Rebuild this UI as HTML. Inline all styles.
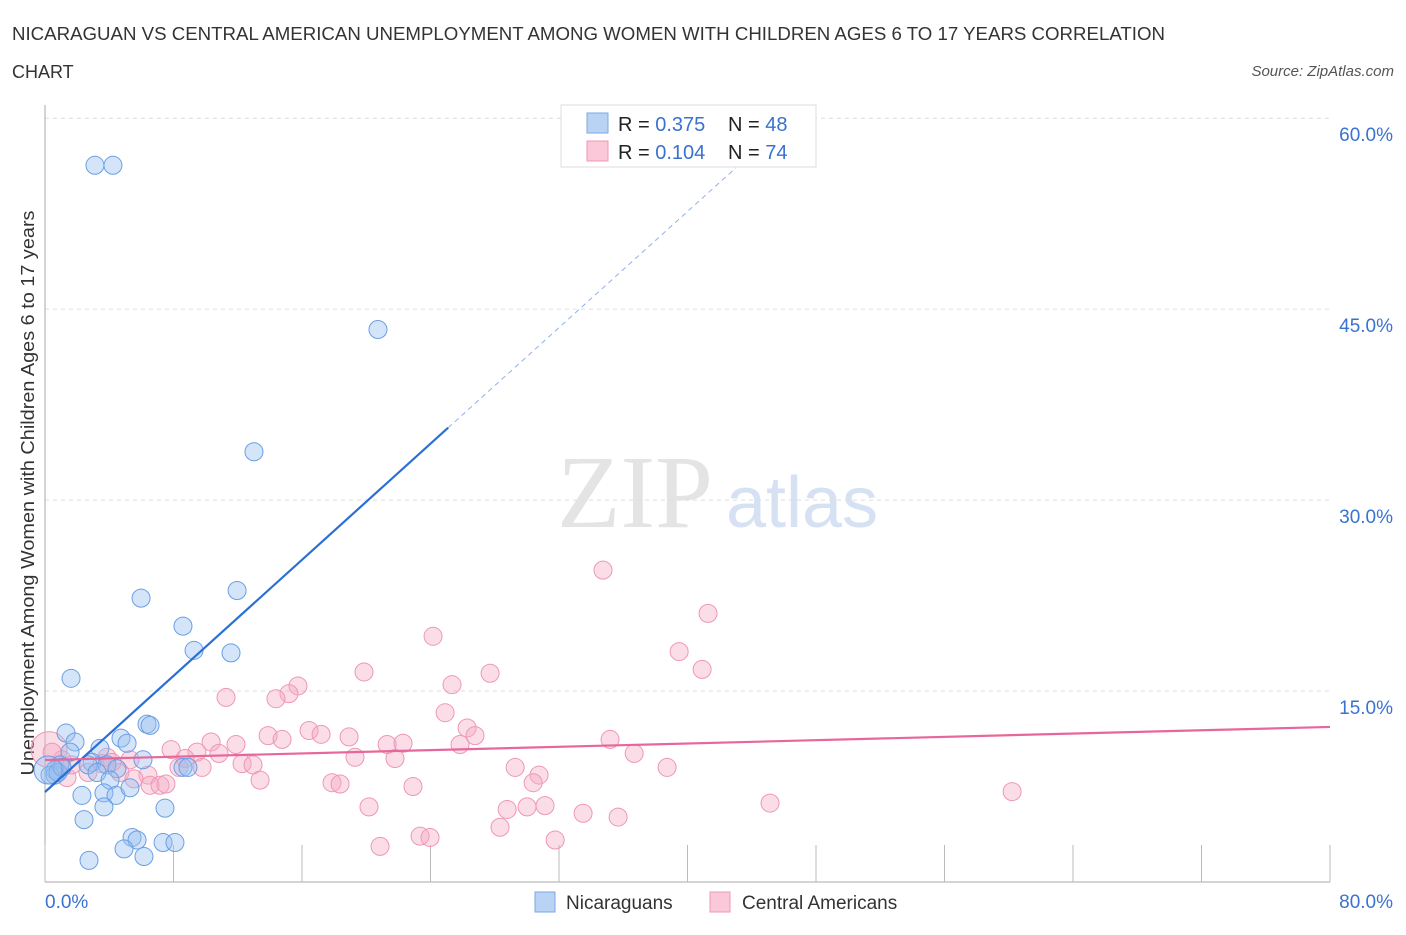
<!DOCTYPE html>
<html><head><meta charset="utf-8"><style>
body{margin:0;background:#fff;font-family:"Liberation Sans",sans-serif;}
svg text{font-family:"Liberation Sans",sans-serif;}
</style></head><body>
<svg id="chart" width="1406" height="930" viewBox="0 0 1406 930">
<text x="12" y="40" font-size="18" fill="#333" textLength="1153" lengthAdjust="spacingAndGlyphs">NICARAGUAN VS CENTRAL AMERICAN UNEMPLOYMENT AMONG WOMEN WITH CHILDREN AGES 6 TO 17 YEARS CORRELATION</text>
<text x="12" y="78" font-size="18" fill="#333">CHART</text>
<text x="1394" y="76" font-size="15" fill="#555" font-style="italic" text-anchor="end">Source: ZipAtlas.com</text>
<text x="635" y="527" font-size="104" fill="#e4e4e4" text-anchor="middle" style="font-family:'Liberation Serif',serif">ZIP</text>
<text x="802" y="527" font-size="72" fill="#d6e2f3" text-anchor="middle">atlas</text>
<text transform="translate(34,493) rotate(-90)" font-size="18" fill="#333" text-anchor="middle" textLength="565" lengthAdjust="spacingAndGlyphs">Unemployment Among Women with Children Ages 6 to 17 years</text>
<g id="grid"></g><g id="pts"></g><g id="lines"></g>
<g>
<rect x="561" y="105" width="255" height="62" fill="#fff" stroke="#ddd"/>
<rect x="587" y="113" width="21" height="20" fill="#b9d3f5" stroke="#7aa7e6"/>
<rect x="587" y="141" width="21" height="20" fill="#fac8d8" stroke="#ef97b5"/>
<text x="618" y="131" font-size="20" fill="#222">R = <tspan fill="#3a72d0">0.375</tspan></text>
<text x="728" y="131" font-size="20" fill="#222">N = <tspan fill="#3a72d0">48</tspan></text>
<text x="618" y="159" font-size="20" fill="#222">R = <tspan fill="#3a72d0">0.104</tspan></text>
<text x="728" y="159" font-size="20" fill="#222">N = <tspan fill="#3a72d0">74</tspan></text>
</g>
<g>
<rect x="535" y="892" width="20" height="20" fill="#b9d3f5" stroke="#7aa7e6"/>
<text x="566" y="909" font-size="19" fill="#333">Nicaraguans</text>
<rect x="710" y="892" width="20" height="20" fill="#fac8d8" stroke="#ef97b5"/>
<text x="742" y="909" font-size="19" fill="#333">Central Americans</text>
</g>
</svg>
<script>
const yTicks=[15,30,45,60];
const yTickLabels=["15.0%","30.0%","45.0%","60.0%"];
const xTickLabels=["0.0%","80.0%"];
const blueX=[3.11,4.23,20.73,13.01,11.96,5.98,8.59,9.28,11.58,1.62,6.35,6.54,1.31,4.73,1.87,5.11,3.42,1.56,2.93,0.93,6.10,3.86,2.68,0.62,0.62,8.59,8.90,3.24,4.48,4.05,2.30,3.67,4.42,5.29,3.67,7.47,2.43,5.42,5.73,4.92,7.35,8.09,2.74,6.16,0.31,0.81,1.06,0.19];
const blueY=[56.3,56.3,43.4,33.8,22.9,22.3,20.1,18.2,18.0,16.0,12.4,12.3,11.7,11.3,11.0,10.9,10.5,10.2,9.4,9.2,9.6,9.2,9.2,8.8,8.4,9.0,9.0,8.6,8.9,8.0,6.8,7.0,6.8,7.4,5.9,5.8,4.9,3.5,3.3,2.6,3.1,3.1,1.7,2.0,8.4,8.6,9.0,8.8];
const pinkX=[34.74,41.28,24.16,39.48,40.91,19.86,27.71,25.34,15.75,15.19,11.27,14.38,24.91,16.44,26.28,17.19,26.77,13.89,14.76,18.93,10.34,11.89,35.18,21.30,22.29,25.84,7.85,9.46,10.83,36.68,19.30,21.79,3.86,8.72,5.29,3.55,12.27,12.95,38.73,8.34,29.27,9.78,30.76,4.67,2.68,6.41,5.54,13.39,6.54,7.16,7.53,1.37,17.87,18.37,30.39,22.91,0.25,45.14,60.21,31.13,30.01,28.77,20.17,33.50,35.68,28.33,23.35,23.97,31.76,20.86,1.06,1.68,0.44,4.17];
const pinkY=[24.5,21.1,19.3,18.1,16.7,16.5,16.4,15.5,15.4,14.8,14.5,14.4,13.3,11.9,12.1,11.6,11.5,11.5,11.2,11.4,11.0,10.8,11.2,10.8,10.9,10.8,10.4,10.2,10.1,10.1,9.8,9.7,9.8,9.7,9.6,9.3,9.3,9.2,9.0,9.0,9.0,9.0,8.4,8.6,8.6,8.4,8.1,8.0,7.6,7.6,7.7,8.2,7.8,7.7,7.8,7.5,10.4,6.2,7.1,6.0,5.9,5.7,5.9,5.4,5.1,4.3,3.6,3.5,3.3,2.8,9.6,9.2,10.2,9.4];
const blueTrend=[7.07,1.14];
const pinkTrend=[9.58,0.0325];
const NS="http://www.w3.org/2000/svg";
const X=v=>45+v*(1285/80);
const Y=v=>882-v*12.73;
function mk(tag,attrs,parent){const e=document.createElementNS(NS,tag);for(const k in attrs)e.setAttribute(k,attrs[k]);parent.appendChild(e);return e;}
const grid=document.getElementById('grid');
yTicks.forEach((t,i)=>{
 const l=mk('line',{x1:45,x2:1330,y1:Y(t),y2:Y(t),stroke:'#ddd','stroke-dasharray':'4,4'},grid);
 
 
 const tx=mk('text',{x:1393,y:Y(t)+23,'font-size':19,fill:'#3a72d0','text-anchor':'end'},grid);
 tx.textContent=yTickLabels[i];
 
 
});
const ax=mk('line',{x1:45,x2:45,y1:105,y2:882,stroke:'#aaa'},grid);


const bx=mk('line',{x1:45,x2:1330,y1:882,y2:882,stroke:'#aaa'},grid);


for(let i=0;i<=10;i++){
 const t=mk('line',{x1:X(i*8),x2:X(i*8),y1:845,y2:882,stroke:'#bbb'},grid);
 
 
}
[[0,'start',45],[1,'end',1393]].forEach(([i,a,x])=>{
 const tx=mk('text',{x:x,y:908,'font-size':19,fill:'#3a72d0','text-anchor':a},grid);
 tx.textContent=xTickLabels[i];
 
 
});
const pts=document.getElementById('pts');
pinkX.forEach((x,i)=>{
 const c=mk('circle',{cx:X(x),cy:Y(pinkY[i]),r:(i==56?18:9),fill:'rgba(246,170,196,0.4)',stroke:'#ef97b5','stroke-width':1},pts);
 
 
});
blueX.forEach((x,i)=>{
 const c=mk('circle',{cx:X(x),cy:Y(blueY[i]),r:(i==47?14:9),fill:'rgba(150,190,240,0.4)',stroke:'#6a9fe3','stroke-width':1},pts);
 
 
});
const lines=document.getElementById('lines');
const bl=mk('line',{x1:X(0),y1:Y(blueTrend[0]),x2:X(25.1),y2:Y(blueTrend[0]+blueTrend[1]*25.1),stroke:'#2a6fd6','stroke-width':2.2},lines);


const bd=mk('line',{x1:X(25.1),y1:Y(blueTrend[0]+blueTrend[1]*25.1),x2:X(43),y2:Y(blueTrend[0]+blueTrend[1]*43),stroke:'#8fb2e6','stroke-width':1,'stroke-dasharray':'5,4'},lines);


const pl=mk('line',{x1:X(0),y1:Y(pinkTrend[0]),x2:X(80),y2:Y(pinkTrend[0]+pinkTrend[1]*80),stroke:'#e8679a','stroke-width':2.2},lines);


</script>
</body></html>
